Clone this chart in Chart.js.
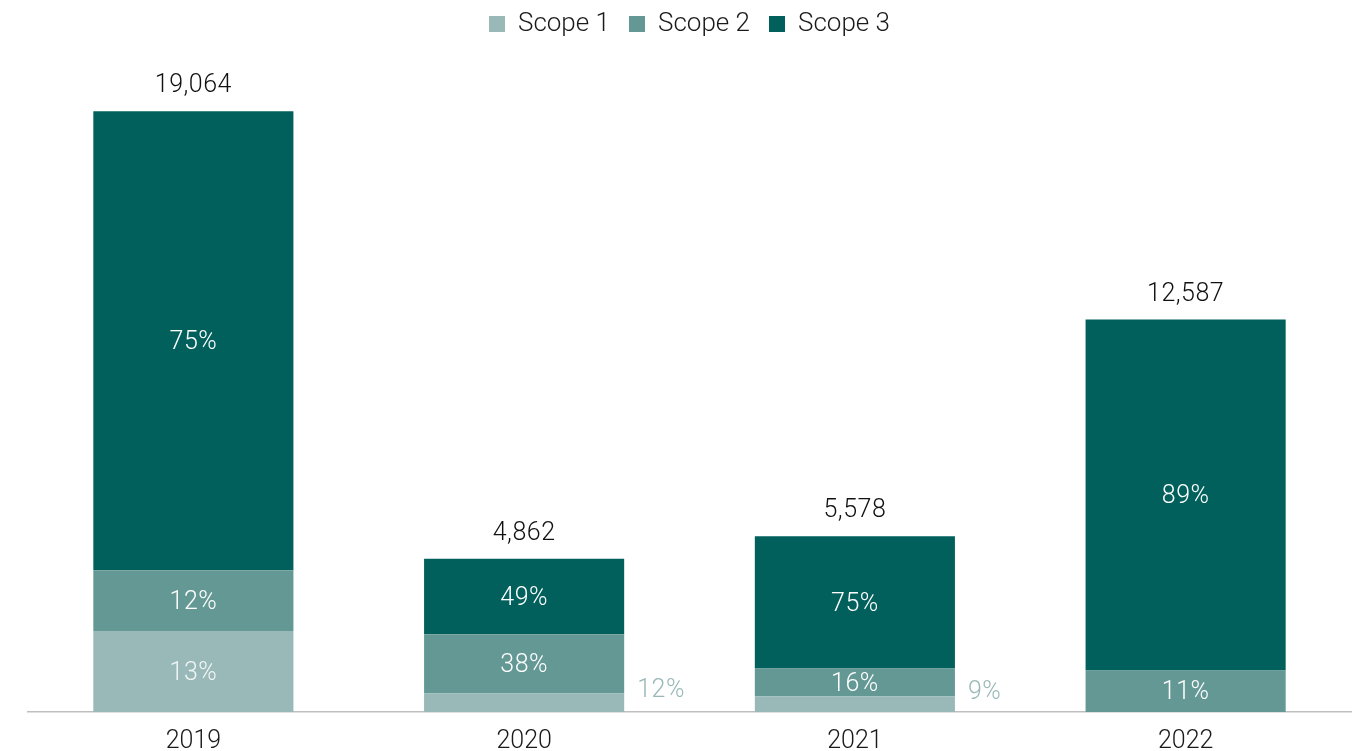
<!DOCTYPE html>
<html>
<head>
<meta charset="utf-8">
<script src="https://cdn.jsdelivr.net/npm/chart.js@4.4.1/dist/chart.umd.min.js"></script>
<style>
  html, body { margin: 0; padding: 0; background: #fff; overflow: hidden; }
  #wrap { width: 1356px; height: 772px; position: absolute; left: 0; top: -8px; }
</style>
</head>
<body>
<div id="wrap"><canvas id="chart"></canvas></div>
<script>
// ── Data ──
const years   = ['2019', '2020', '2021', '2022'];
const scope1  = [2570, 587, 502, 0];
const scope2  = [1925, 1883, 879, 1318];
const scope3  = [14569, 2391, 4197, 11135];
const totals  = ['19,064', '4,862', '5,578', '12,587'];
const pct1    = ['13%', '12%', '9%', ''];
const pct2    = ['12%', '38%', '16%', '11%'];
const pct3    = ['75%', '49%', '75%', '89%'];

const C1 = '#99B9B8';
const C2 = '#639894';
const C3 = '#01605C';
const FONT = "Roboto, 'Liberation Sans', sans-serif";

// draws % labels inside segments (or beside small ones) and totals on top
const labelPlugin = {
  id: 'segLabels',
  afterDatasetsDraw(chart) {
    const ctx = chart.ctx;
    const pcts = [pct1, pct2, pct3];
    ctx.save();
    ctx.font = '300 25px ' + FONT;
    ctx.letterSpacing = '0.5px';
    ctx.textBaseline = 'middle';
    chart.data.datasets.forEach((ds, i) => {
      const meta = chart.getDatasetMeta(i);
      meta.data.forEach((el, j) => {
        const txt = pcts[i][j];
        if (!txt) return;
        const h = Math.abs(el.base - el.y);
        if (h < 24) {
          ctx.fillStyle = C1;
          ctx.textAlign = 'left';
          ctx.fillText(txt, el.x + el.width / 2 + 13, el.y - 3);
        } else {
          ctx.fillStyle = i === 0 ? '#f2f5f5' : '#ffffff';
          ctx.textAlign = 'center';
          ctx.fillText(txt, el.x, (el.y + el.base) / 2 + 2);
        }
      });
    });
    // totals
    const top = chart.getDatasetMeta(2);
    ctx.fillStyle = '#111';
    ctx.textAlign = 'center';
    top.data.forEach((el, j) => {
      ctx.fillText(totals[j], el.x, el.y - 25);
    });
    ctx.restore();
  }
};

new Chart(document.getElementById('chart'), {
  type: 'bar',
  data: {
    labels: years,
    datasets: [
      { label: 'Scope 1', data: scope1, backgroundColor: C1 },
      { label: 'Scope 2', data: scope2, backgroundColor: C2 },
      { label: 'Scope 3', data: scope3, backgroundColor: C3 }
    ]
  },
  options: {
    responsive: true,
    maintainAspectRatio: false,
    animation: false,
    barPercentage: 0.605,
    categoryPercentage: 1,
    layout: { padding: { left: 28, right: 5, top: 0, bottom: 0 } },
    plugins: {
      legend: {
        position: 'top',
        labels: {
          color: '#1a1a1a',
          font: { family: FONT, size: 26, weight: '300' },
          boxWidth: 16,
          boxHeight: 16,
          padding: 19
        }
      },
      tooltip: { enabled: false }
    },
    scales: {
      x: {
        stacked: true,
        grid: { display: false },
        border: { display: true, color: '#bfbfbf', width: 1.5 },
        ticks: { color: '#1a1a1a', font: { family: FONT, size: 25, weight: '300' }, padding: 7 }
      },
      y: {
        stacked: true,
        display: false,
        min: 0,
        max: 21100
      }
    }
  },
  plugins: [labelPlugin]
});
</script>
</body>
</html>
